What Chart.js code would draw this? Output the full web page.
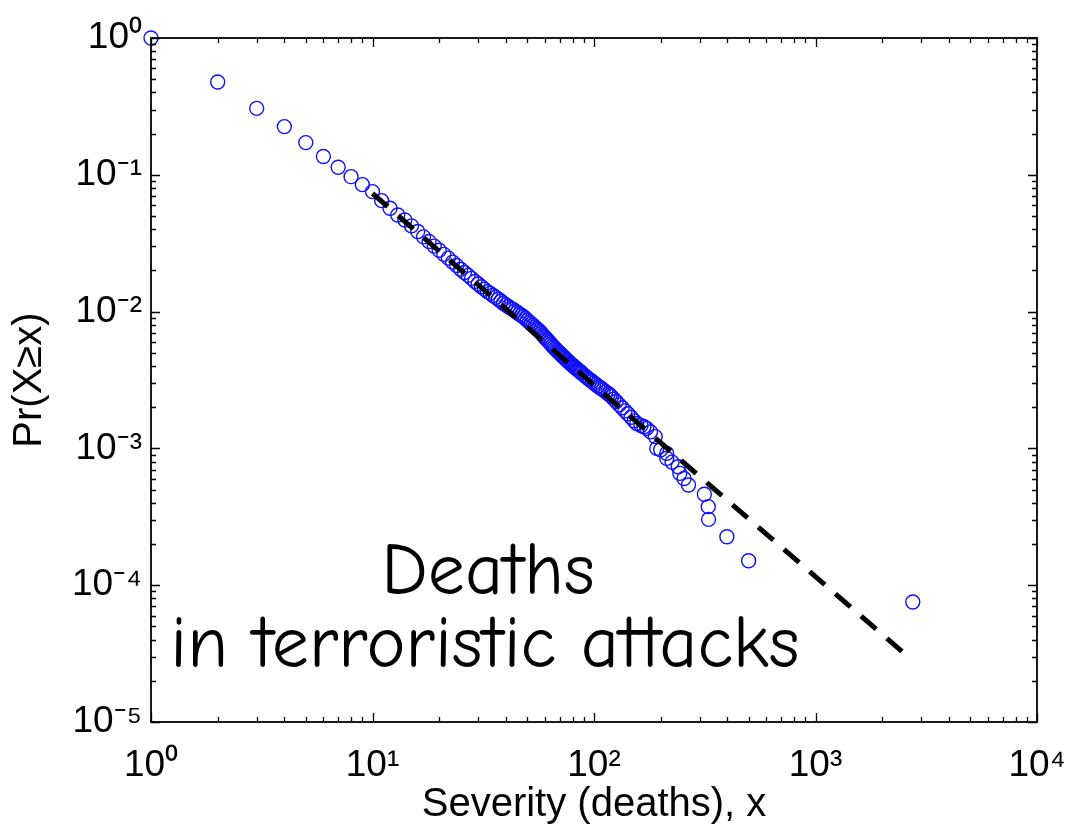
<!DOCTYPE html>
<html>
<head>
<meta charset="utf-8">
<script src="https://cdn.jsdelivr.net/npm/chart.js@4.4.1/dist/chart.umd.min.js"></script>
<style>
  html, body { margin: 0; padding: 0; background: #ffffff; }
  #wrap { width: 1065px; height: 829px; position: relative; }
</style>
</head>
<body>
<div id="wrap"><canvas id="c" width="1065" height="829"></canvas></div>
<script>
// ---- data ----
const severity = [
  1, 2, 3, 4, 5, 6, 7, 8, 9, 10, 11, 12, 13, 14,
  15, 16, 17, 18, 19, 20, 21, 22, 23, 24, 25, 26, 27, 28, 29, 30,
  31, 32, 33, 34, 35, 36, 37, 38, 39, 40, 41, 42, 43, 44, 45, 46, 47, 48, 49, 50,
  51, 52, 53, 54, 55, 56, 57, 58, 59, 60, 61, 62, 63, 64, 65, 66, 67, 68, 69, 70,
  71, 72, 73, 74, 75, 76, 77, 78, 79, 80, 81, 82, 83, 84, 85, 86, 87, 88, 90, 92,
  94, 96, 98, 100, 102, 104, 106, 108, 110, 113, 116, 118, 120, 123, 126, 130, 134, 138, 142, 147,
  152, 156, 163, 168, 173, 180, 189, 192, 200, 213, 213, 225, 240, 244, 255, 267, 315, 328, 329, 398,
  499, 2749
];
const probability = [
  1, 0.477, 0.306, 0.225, 0.172, 0.136, 0.1135, 0.0969, 0.0847, 0.0753, 0.0647, 0.0569, 0.0508, 0.0467,
  0.0423, 0.0385, 0.0352, 0.0325, 0.0301, 0.0281, 0.0262, 0.0246, 0.0230, 0.0217, 0.0204, 0.0193, 0.0184, 0.0175, 0.0166, 0.0159,
  0.0152, 0.0146, 0.0140, 0.0136, 0.0131, 0.0127, 0.0123, 0.0119, 0.0115, 0.0112, 0.0109, 0.0106, 0.0104, 0.0101, 0.00984, 0.00961, 0.00940, 0.00918, 0.00891, 0.00865,
  0.00838, 0.00817, 0.00794, 0.00773, 0.00752, 0.00733, 0.00713, 0.00692, 0.00668, 0.00650, 0.00631, 0.00612, 0.00594, 0.00577, 0.00561, 0.00546, 0.00533, 0.00520, 0.00508, 0.00498,
  0.00486, 0.00476, 0.00466, 0.00456, 0.00446, 0.00437, 0.00429, 0.00419, 0.00411, 0.00405, 0.00398, 0.00391, 0.00385, 0.00378, 0.00373, 0.00367, 0.00361, 0.00356, 0.00345, 0.00334,
  0.00325, 0.00316, 0.00308, 0.00301, 0.00293, 0.00286, 0.00280, 0.00274, 0.00268, 0.00259, 0.00251, 0.00245, 0.00239, 0.00229, 0.00220, 0.00208, 0.00198, 0.00188, 0.00179, 0.00169,
  0.00159, 0.00152, 0.00147, 0.00144, 0.00140, 0.00132, 0.00122, 0.00100, 0.000977, 0.000920, 0.000846, 0.000794, 0.000734, 0.000657, 0.000603, 0.000540, 0.000462, 0.000375, 0.000303, 0.000226,
  0.000151, 0.0000754
];
const fitSeverity = [10, 2500];
const fitProbability = [0.073, 0.000032];
const xTickValues = [1, 10, 100, 1000, 10000];
const yTickValues = [1, 0.1, 0.01, 0.001, 0.0001, 0.00001];
const xAxisTitle = 'Severity (deaths), x';
const yAxisTitle = 'Pr(X\u2265x)';
const annotationLines = ['Deaths', 'in terroristic attacks'];

// ---- helpers ----
const SUP = {'0':'\u2070','1':'\u00b9','2':'\u00b2','3':'\u00b3','4':'\u2074','5':'\u2075','6':'\u2076','7':'\u2077','8':'\u2078','9':'\u2079','-':'\u207b'};
function powLabel(v) {
  const e = Math.round(Math.log10(v));
  return '10' + String(e).split('').map(ch => SUP[ch]).join('');
}
const points = severity.map((x, i) => ({x: x, y: probability[i]}));
const fitPoints = fitSeverity.map((x, i) => ({x: x, y: fitProbability[i]}));

const frameAndTicks = {
  id: 'frameAndTicks',
  afterDatasetsDraw(chart) {
    const ctx = chart.ctx;
    const a = chart.chartArea;
    const xs = chart.scales.x, ys = chart.scales.y;
    ctx.save();
    ctx.strokeStyle = '#000';
    ctx.lineWidth = 1.8;
    ctx.strokeRect(a.left, a.top, a.right - a.left, a.bottom - a.top);
    ctx.lineWidth = 1.3;
    ctx.beginPath();
    for (let d = 0; d < 4; d++) {
      for (let m = 1; m <= 10; m++) {
        const v = Math.pow(10, d) * m;
        const px = Math.round(xs.getPixelForValue(v)) + 0.5;
        const len = (m === 1 || m === 10) ? 9 : 5;
        ctx.moveTo(px, a.bottom); ctx.lineTo(px, a.bottom - len);
        ctx.moveTo(px, a.top); ctx.lineTo(px, a.top + len);
      }
    }
    for (let d = -5; d < 0; d++) {
      for (let m = 1; m <= 10; m++) {
        const v = Math.pow(10, d) * m;
        const py = Math.round(ys.getPixelForValue(v)) + 0.5;
        const len = (m === 1 || m === 10) ? 9 : 5;
        ctx.moveTo(a.left, py); ctx.lineTo(a.left + len, py);
        ctx.moveTo(a.right, py); ctx.lineTo(a.right - len, py);
      }
    }
    ctx.stroke();
    ctx.restore();
  },
  afterDraw(chart) {
    const ctx = chart.ctx;
    ctx.save();
    ctx.fillStyle = '#000';
    ctx.textAlign = 'center';
    ctx.textBaseline = 'alphabetic';
    ctx.font = '74px "Comic Sans MS", "Comic Neue", cursive';
    ctx.fillText(annotationLines[0], 488, 594);
    ctx.fillText(annotationLines[1], 485, 667);
    ctx.restore();
  }
};

Chart.defaults.font.family = '"Liberation Sans", Arial, Helvetica, sans-serif';
Chart.defaults.color = '#000';

new Chart(document.getElementById('c'), {
  type: 'scatter',
  data: {
    datasets: [
      {
        label: 'fit',
        data: fitPoints,
        showLine: true,
        borderColor: '#000',
        borderWidth: 5,
        borderDash: [20, 14],
        pointRadius: 0,
        fill: false
      },
      {
        label: 'data',
        data: points,
        showLine: false,
        pointStyle: 'circle',
        pointRadius: 7,
        borderColor: '#1010ff',
        backgroundColor: 'rgba(0,0,0,0)',
        pointBorderWidth: 1.4,
        clip: false
      }
    ]
  },
  plugins: [frameAndTicks],
  options: {
    responsive: false,
    animation: false,
    events: [],
    layout: { padding: { top: 38, right: 28, left: 0, bottom: 0 } },
    plugins: { legend: { display: false }, tooltip: { enabled: false } },
    scales: {
      x: {
        type: 'logarithmic',
        min: 1, max: 10000,
        afterBuildTicks: (s) => { s.ticks = xTickValues.map(v => ({value: v})); },
        afterFit: (s) => { s.height = 107; s.paddingLeft = 0; s.paddingRight = 0; },
        grid: { display: false, drawTicks: false },
        border: { display: false },
        ticks: { autoSkip: false, maxRotation: 0, padding: 22, font: { size: 37 }, color: '#000', callback: (v) => powLabel(v) },
        title: { display: true, text: xAxisTitle, font: { size: 40 }, color: '#000', padding: { top: 0, bottom: 0 } }
      },
      y: {
        type: 'logarithmic',
        min: 0.00001, max: 1,
        afterBuildTicks: (s) => { s.ticks = yTickValues.map(v => ({value: v})); },
        afterFit: (s) => { s.width = 151; s.paddingTop = 0; s.paddingBottom = 0; },
        grid: { display: false, drawTicks: false },
        border: { display: false },
        ticks: { autoSkip: false, padding: 9, font: { size: 37 }, color: '#000', callback: (v) => powLabel(v) },
        title: { display: true, text: yAxisTitle, font: { size: 40 }, color: '#000', padding: { top: 6, bottom: 0 } }
      }
    }
  }
});
</script>
</body>
</html>
